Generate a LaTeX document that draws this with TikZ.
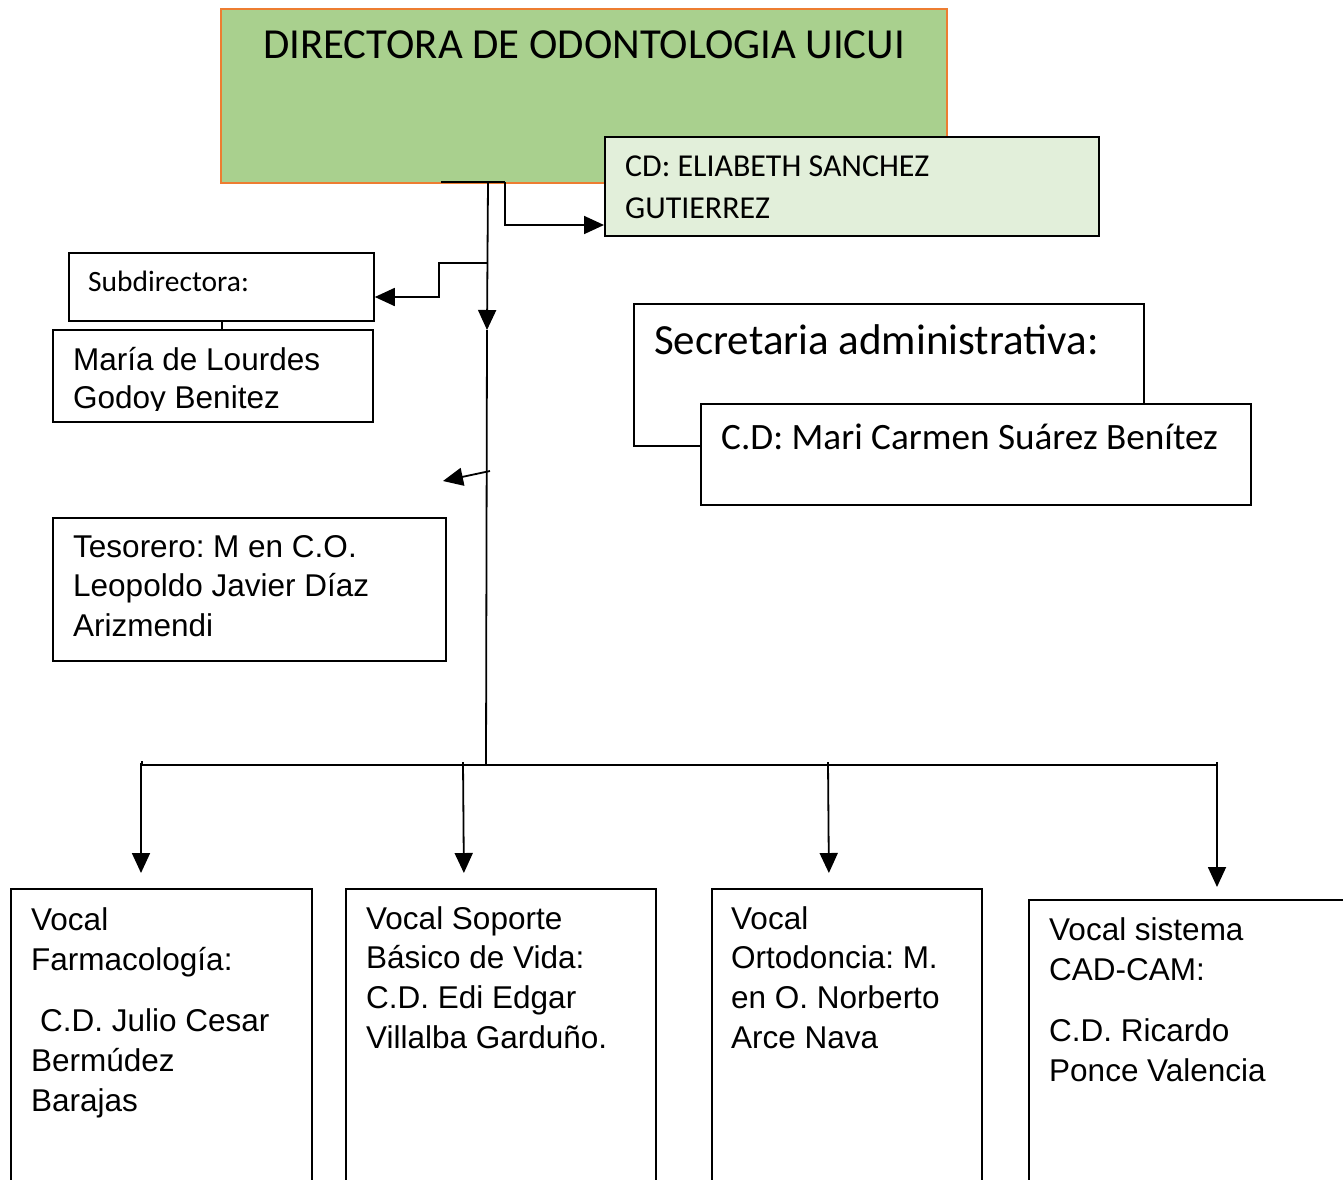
\documentclass[tikz,border=0pt]{standalone}
\usepackage{fontspec}
\setmainfont{Liberation Sans}
\newfontfamily\carl{Carlito}
\usetikzlibrary{arrows.meta,calc}
\definecolor{dirgreen}{RGB}{169,208,142}
\definecolor{dirorange}{RGB}{237,125,49}
\definecolor{cdgreen}{RGB}{226,239,218}
\newcommand\mylines[2]{\vtop{\baselineskip=#1\relax #2}}
\frenchspacing
\begin{document}
\begin{tikzpicture}[x=1pt,y=-1pt,
  box/.style={draw,line width=1.8pt,anchor=north west,inner sep=0pt},
  lbl/.style={anchor=base west,inner sep=0pt},
  arial/.style={font=\frenchspacing\fontsize{31.5}{40}\selectfont},
  conn/.style={line width=1.8pt},
  arr/.style={conn,-{Triangle[length=20pt,width=18pt]}}]
\useasboundingbox (0,0) rectangle (1343,1179);
\fill[white] (0,0) rectangle (1343,1179);

% director
\node[box, draw=dirorange, fill=dirgreen, line width=2.2pt, minimum width=726pt, minimum height=174pt] (dir) at (220,8) {};
\node[lbl, font=\carl\fontsize{42.8}{50}\selectfont] (dirt) at (263,58) {DIRECTORA DE ODONTOLOGIA UICUI};

% CD box
\node[box, fill=cdgreen, minimum width=494pt, minimum height=99pt] (cd) at (604,136) {};
\node[lbl, font=\carl\fontsize{31.9}{42}\selectfont] (cdt) at (625,176) {\mylines{42pt}{\hbox{CD: ELIABETH SANCHEZ}\hbox{GUTIERREZ}}};

% Subdirectora
\node[box, minimum width=305pt, minimum height=68pt] (sub) at (68,252) {};
\node[lbl, font=\carl\fontsize{29.5}{34}\selectfont] (subt) at (88,291) {Subdirectora:};
\node[box, minimum width=320pt, minimum height=92pt] (maria) at (52,329) {};
\begin{scope}
\clip (52,329) rectangle (372,410);
\node[lbl, arial] (mariat) at (73,370) {\mylines{38pt}{\hbox{María de Lourdes}\hbox{Godoy Benitez}}};
\end{scope}

% Tesorero
\node[box, minimum width=393pt, minimum height=143pt] (tes) at (52,517) {};
\node[lbl, arial] (test) at (73,557) {\mylines{39.5pt}{\hbox{Tesorero: M en C.O.}\hbox{Leopoldo Javier Díaz}\hbox{Arizmendi}}};

% Secretaria
\node[box, minimum width=510pt, minimum height=142pt] (sec) at (633,303) {};
\node[lbl, font=\carl\fontsize{43}{50}\selectfont] (sect) at (654,354) {Secretaria administrativa:};
\node[box, fill=white, minimum width=550pt, minimum height=101pt] (cds) at (700,403) {};
\node[lbl, font=\carl\frenchspacing\fontsize{37.2}{44}\selectfont] (cdst) at (721,449) {C.D: Mari Carmen Suárez Benítez};

% Vocales
\node[box, minimum width=301pt, minimum height=320pt] (v1) at (10,888) {};
\node[box, minimum width=310pt, minimum height=320pt] (v2) at (345,888) {};
\node[box, minimum width=270pt, minimum height=320pt] (v3) at (711,888) {};
\node[box, minimum width=330pt, minimum height=320pt] (v4) at (1028,899) {};
\node[lbl, arial] (v1t) at (31,930) {\mylines{40pt}{\hbox{Vocal}\hbox{Farmacología:}\vskip21pt\hbox{\hspace*{9pt}C.D. Julio Cesar}\hbox{Bermúdez}\hbox{Barajas}}};
\node[lbl, arial] (v2t) at (366,929) {\mylines{39.7pt}{\hbox{Vocal Soporte}\hbox{Básico de Vida:}\hbox{C.D. Edi Edgar}\hbox{Villalba Garduño.}}};
\node[lbl, arial] (v3t) at (731,929) {\mylines{39.7pt}{\hbox{Vocal}\hbox{Ortodoncia: M.}\hbox{en O. Norberto}\hbox{Arce Nava}}};
\node[lbl, arial] (v4t) at (1049,940) {\mylines{40pt}{\hbox{Vocal sistema}\hbox{CAD-CAM:}\vskip21pt\hbox{C.D. Ricardo}\hbox{Ponce Valencia}}};

% connectors
\coordinate (j1) at (441,182);
\coordinate (j2) at (505,182);
\draw[conn] (j1) -- (j2);
\draw[arr] (j2) |- (cd.west |- 0,225);

\coordinate (m0) at (488,182);
\coordinate (m1) at (487,330);
\coordinate (m2) at (486,765);
\draw[arr] (m0) -- (m1);
\draw[conn] (m1) -- (m2);

\coordinate (s0) at (488,263);
\coordinate (s1) at (439,263);
\draw[arr] (s0) -- (s1) |- (sub.east |- 0,297);
\draw[conn] (sub.south -| 222,0) -- (maria.north -| 222,0);

\coordinate (la0) at (490,471);
\coordinate (la1) at (443,481);
\draw[arr] (la0) -- (la1);

\coordinate (b0) at (142,765);
\coordinate (b1) at (1217,765);
\draw[conn] (142,761) -- (b0) -- (b1);
\draw[arr, shorten >=15pt] (141,763) -- (v1.north -| 141,0);
\draw[arr, shorten >=15pt] (463,762) -- (v2.north -| 464,0);
\draw[arr, shorten >=15pt] (828,762) -- (v3.north -| 829,0);
\draw[arr, shorten >=12pt] (1217,762) -- (v4.north -| 1217,0);
\end{tikzpicture}
\end{document}
